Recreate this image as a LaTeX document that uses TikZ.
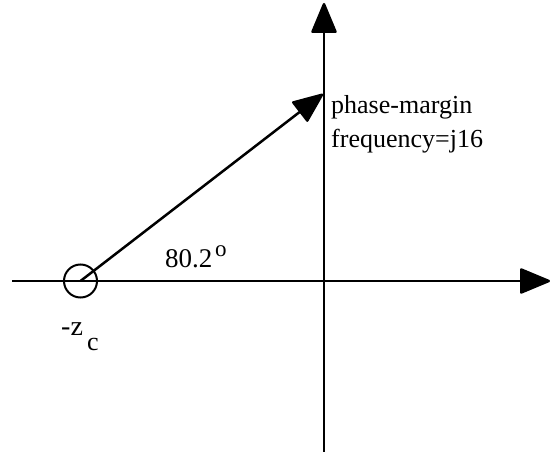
\documentclass[tikz,border=0pt]{standalone}
\usepackage{fontspec}
\setmainfont{Liberation Serif}
\usetikzlibrary{arrows.meta}
\tikzset{
  axis/.style={line width=2.5pt, -{Triangle[length=32pt,width=26pt,round]}},
  lbl/.style={inner sep=0pt, anchor=base west},
}
\begin{document}
\begin{tikzpicture}[x=1pt,y=-1pt]
\useasboundingbox (0,0) rectangle (550,452);
% axes
\coordinate (xl) at (12,281);
\coordinate (xr) at (550,281);
\coordinate (yb) at (324,452);
\coordinate (yt) at (324,3);
\draw[axis] (xl) -- (xr);
\draw[axis] (yb) -- (yt);
% zero circle
\node[circle, draw, line width=2pt, minimum size=33pt, inner sep=0pt] (zc) at (80.5,281) {};
% phase-margin vector
\coordinate (pm) at (323,94);
\draw[axis] (zc.center) -- (pm);
% labels
\node[lbl, font=\fontsize{26}{26}\selectfont] (t1) at (331,114) {phase-margin};
\node[lbl, font=\fontsize{26}{26}\selectfont] (t2) at (331,148) {frequency=j16};
\node[lbl, font=\fontsize{27}{27}\selectfont] (ang) at (165,267) {80.2};
\node[lbl, font=\fontsize{23}{23}\selectfont] (deg) at (215,256) {o};
\node[lbl, font=\fontsize{28}{28}\selectfont] (z) at (61,335) {-z};
\node[lbl, font=\fontsize{26}{26}\selectfont] (c) at (87,350) {c};
\end{tikzpicture}
\end{document}
